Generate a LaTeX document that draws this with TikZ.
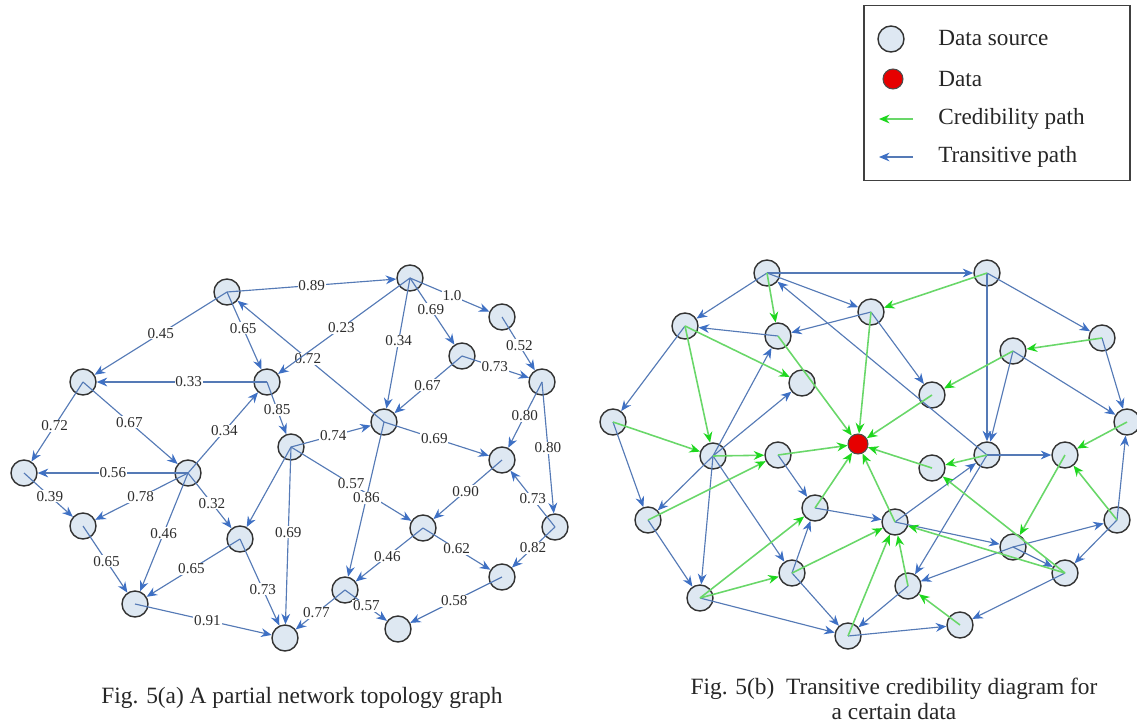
\documentclass[tikz,border=0pt]{standalone}
\usepackage{fontspec}
\setmainfont{Liberation Serif}
\usetikzlibrary{arrows.meta}
\definecolor{srcfill}{RGB}{222,232,242}
\definecolor{datred}{RGB}{230,0,0}
\definecolor{trblue}{RGB}{85,122,182}
\definecolor{trtip}{RGB}{62,112,196}
\definecolor{crgreen}{RGB}{105,215,105}
\definecolor{crtip}{RGB}{30,215,30}
\definecolor{labtext}{RGB}{45,45,45}
\begin{document}
\begin{tikzpicture}[x=0.02cm,y=-0.02cm,
  src/.style={circle,draw=black!80,line width=0.8pt,fill=srcfill,minimum size=0.52cm,inner sep=0pt},
  dat/.style={circle,draw=black!70,line width=0.6pt,fill=datred,minimum size=0.4cm,inner sep=0pt},
  tr/.style={draw=trblue,line width=0.65pt,-{Stealth[length=6pt,width=5pt,color=trtip]}},
  cr/.style={draw=crgreen,line width=0.9pt,-{Stealth[length=6pt,width=5pt,color=crtip]}},
  lab/.style={fill=white,inner sep=0.5pt,text=labtext,font=\fontsize{8.6}{9}\selectfont},
  legtext/.style={anchor=west,inner sep=0pt,font=\fontsize{13.2}{15}\selectfont,text=black!85},
  figcap/.style={inner sep=0pt,font=\fontsize{13.3}{14.4}\selectfont,text=black!85}]
\useasboundingbox (0,0) rectangle (1137,724);

% ---------- Fig. 5(a): partial network topology ----------
\foreach \n/\x/\y in {A/227/292, G/410/278, B/83/382, C/267/382, H/462/356, I/502/317,
  J/542/382, F/291/447, K/384/422, D/24/473, E/188/473, L/502/460, M/83/526,
  N/240/539, P/423/528, Q/555/527, O/135/604, R/345/590, S/502/577, T/285/638, U/398/629}
  \node[src] (\n) at (\x,\y) {};

\draw[tr] (A.center) -- node[lab,pos=.50]{0.89} (G);
\draw[tr] (A.center) -- node[lab,pos=.50]{0.45} (B);
\draw[tr] (A.center) -- node[lab,pos=.47]{0.65} (C);
\draw[tr] (K.center) -- node[lab,pos=.52]{0.72} (A);
\draw[tr] (G.center) -- node[lab,pos=.52]{0.23} (C);
\draw[tr] (G.center) -- node[lab,pos=.48]{0.34} (K);
\draw[tr] (G.center) -- node[lab,pos=.47]{0.69} (H);
\draw[tr] (G.center) -- node[lab,pos=.53]{1.0} (I);
\draw[tr] (I.center) -- node[lab,pos=.53]{0.52} (J);
\draw[tr] (H.center) -- node[lab,pos=.49]{0.73} (J);
\draw[tr] (H.center) -- node[lab,pos=.51]{0.67} (K);
\draw[tr] (C.center) -- node[lab,pos=.46]{0.33} (B);
\draw[tr] (C.center) -- node[lab,pos=.53]{0.85} (F);
\draw[tr] (E.center) -- node[lab,pos=.52]{0.34} (C);
\draw[tr] (B.center) -- node[lab,pos=.55]{0.72} (D);
\draw[tr] (B.center) -- node[lab,pos=.49]{0.67} (E);
\draw[tr] (E.center) -- node[lab,pos=.50]{0.56} (D);
\draw[tr] (F.center) -- node[lab,pos=.53]{0.74} (K);
\draw[tr] (K.center) -- node[lab,pos=.48]{0.69} (L);
\draw[tr] (J.center) -- node[lab,pos=.51]{0.80} (L);
\draw[tr] (J.center) -- node[lab,pos=.50]{0.80} (Q);
\draw[tr] (Q.center) -- node[lab,pos=.50]{0.73} (L);
\draw[tr] (L.center) -- node[lab,pos=.53]{0.90} (P);
\draw[tr] (D.center) -- node[lab,pos=.53]{0.39} (M);
\draw[tr] (E.center) -- node[lab,pos=.51]{0.78} (M);
\draw[tr] (E.center) -- node[lab,pos=.51]{0.46} (O);
\draw[tr] (E.center) -- node[lab,pos=.55]{0.32} (N);
\draw[tr] (F.center) -- (N);
\draw[tr] (F.center) -- node[lab,pos=.48]{0.69} (T);
\draw[tr] (M.center) -- node[lab,pos=.53]{0.65} (O);
\draw[tr] (N.center) -- node[lab,pos=.52]{0.65} (O);
\draw[tr] (N.center) -- node[lab,pos=.58]{0.73} (T);
\draw[tr] (O.center) -- node[lab,pos=.53]{0.91} (T);
\draw[tr] (R.center) -- node[lab,pos=.58]{0.77} (T);
\draw[tr] (F.center) -- node[lab,pos=.50]{0.57} (P);
\draw[tr] (K.center) -- node[lab,pos=.49]{0.86} (R);
\draw[tr] (P.center) -- node[lab,pos=.53]{0.46} (R);
\draw[tr] (P.center) -- node[lab,pos=.50]{0.62} (S);
\draw[tr] (Q.center) -- node[lab,pos=.51]{0.82} (S);
\draw[tr] (S.center) -- node[lab,pos=.52]{0.58} (U);
\draw[tr] (R.center) -- node[lab,pos=.51]{0.57} (U);

\node[figcap] (capa) at (302,698) {Fig. 5(a) A partial network topology graph};

% ---------- Fig. 5(b): transitive credibility for one data item ----------
\foreach \n/\x/\y in {a1/767/273, a2/987/273, b1/685/326, b2/778/336, b3/871/312,
  c1/802/383, c2/932/395, d1/1013/351, d2/1102/338, e1/613/422, f1/713/456,
  f2/778/455, f3/932/468, f4/987/455, f5/1065/455, f6/1127/422, g1/648/520,
  g2/815/508, g3/895/522, g4/1117/520, h1/1013/547, i1/792/573, i2/908/586,
  i3/1065/573, j1/700/598, k1/848/636, k2/960/625}
  \node[src] (r\n) at (\x,\y) {};
\node[dat] (rd) at (858,444) {};

\foreach \s/\t in {a1/a2, a1/b1, a1/b3, b3/b2, b2/b1, f4/a1, b1/e1, f1/b2, f1/c1,
  e1/g1, f1/g1, g1/j1, f1/j1, f1/i1, j1/k1, i1/g2, i1/k1, f2/g2, g2/g3, b3/c2,
  a2/f4, a2/d2, d2/f6, d1/f4, d1/f6, f4/f5, g4/f6, h1/g4, g4/i3, f4/i2, g3/f4,
  g3/h1, h1/i3, h1/i2, i3/k2, k1/k2, i2/k1}
  \draw[tr] (r\s.center) -- (r\t);

\foreach \s/\t in {a1/b2, b1/f1, b1/c1, b2/d, e1/f1, f1/f2, f2/d, g1/f2, j1/g2,
  j1/i1, g2/d, i1/g3, g3/d, b3/d, a2/b3, d1/c2, c2/d, d2/d1, f6/f5, f4/f3, f3/d,
  f5/h1, g4/f5, i3/f3, i3/g3, k2/i2, i2/g3, k1/g3}
  \draw[cr] (r\s.center) -- (r\t);

\node[figcap,align=center] (capb) at (894,699) {Fig. 5(b)\ \ Transitive credibility diagram for\\a certain data};

% ---------- legend ----------
\node[draw=black!75,line width=0.7pt,minimum width=5.32cm,minimum height=3.5cm,inner sep=0pt] (legend) at (997,93) {};
\node[src] (lsrc) at (891,39) {};
\node[dat] (ldat) at (893,79) {};
\coordinate (lg1) at (913,119);
\coordinate (lg0) at (879,119);
\draw[cr] (lg1) -- (lg0);
\coordinate (lb1) at (913,157);
\coordinate (lb0) at (879,157);
\draw[tr] (lb1) -- (lb0);
\node[legtext] (lt1) at (938,38) {Data source};
\node[legtext] (lt2) at (938,79) {Data};
\node[legtext] (lt3) at (938,119) {Credibility path};
\node[legtext] (lt4) at (938,157) {Transitive path};
\end{tikzpicture}
\end{document}
